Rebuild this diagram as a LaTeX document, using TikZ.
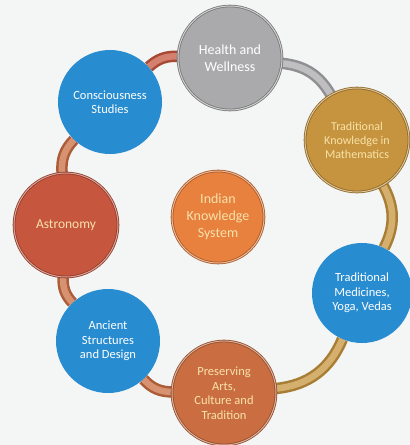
\documentclass[tikz,border=0pt]{standalone}
\usepackage{fontspec}
\setmainfont{Carlito}
\usetikzlibrary{backgrounds}

\definecolor{ikpaper}{RGB}{244,245,245}
\definecolor{ikblue}{RGB}{40,140,208}
\definecolor{ikgray}{RGB}{170,170,172}
\definecolor{ikgold}{RGB}{198,148,62}
\definecolor{ikred}{RGB}{198,86,62}
\definecolor{ikorange}{RGB}{232,128,62}
\definecolor{ikrust}{RGB}{202,110,66}
\definecolor{ikcream}{RGB}{248,226,170}

\tikzset{
  disc/.style={circle, minimum size=104pt, inner sep=1pt, align=center,
    font=\fontsize{12.5}{14.5}\selectfont},
  bluedisc/.style={disc, fill=ikblue, text=white},
  rimdisc/.style={disc, fill=#1, draw=#1!70!black, double=#1!55!white,
    double distance=1pt, line width=0.8pt, text=ikcream},
  band/.style={line width=2.5pt, draw=#1!85!black, double=#1!75!white,
    double distance=6.5pt}
}

\begin{document}
\begin{tikzpicture}[x=1pt,y=-1pt]
\useasboundingbox (0,0) rectangle (410,445);

% the seven topics round the ring
\node[rimdisc=ikgray, text=white, font=\fontsize{14}{17}\selectfont] (health) at (230,58) {Health and\\Wellness};
\node[rimdisc=ikgold, font=\fontsize{12}{14}\selectfont] (maths) at (357,140) {Traditional\\Knowledge in\\Mathematics};
\node[bluedisc, minimum size=100pt] (medicine) at (362,293) {Traditional\\Medicines,\\Yoga, Vedas};
\node[rimdisc=ikrust] (arts) at (224,393) {Preserving\\Arts,\\Culture and\\Tradition};
\node[bluedisc] (design) at (108,341) {Ancient\\Structures\\and Design};
\node[rimdisc=ikred, font=\fontsize{13.5}{16}\selectfont] (astro) at (66,225) {Astronomy};
\node[bluedisc] (mind) at (110,102) {Consciousness\\Studies};

% hub
\node[rimdisc=ikorange, minimum size=92pt, font=\fontsize{14}{17}\selectfont] (iks) at (218,217) {Indian\\Knowledge\\System};

\begin{pgfonlayer}{background}
\fill[ikpaper] (0,0) rectangle (410,445);
\draw[band=ikred] (mind) to[bend left=22] (health);
\draw[band=ikgray] (health) to[bend left=27] (maths);
\draw[band=ikgold] (maths) to[bend left=28] (medicine);
\draw[band=ikgold] (medicine) to[bend left=31] (arts);
\draw[band=ikrust] (arts) to[bend left=23] (design);
\draw[band=ikrust] (design) to[bend left=23] (astro);
\draw[band=ikrust] (astro) to[bend left=24] (mind);
\end{pgfonlayer}
\end{tikzpicture}
\end{document}
